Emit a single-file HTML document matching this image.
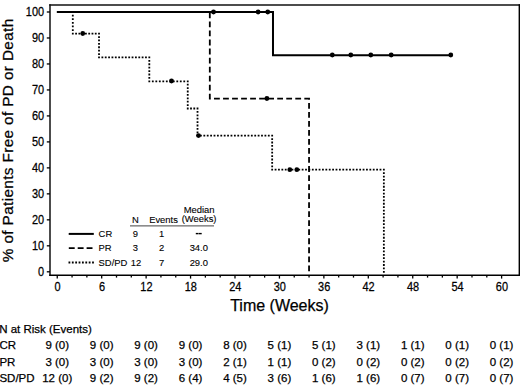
<!DOCTYPE html>
<html><head><meta charset="utf-8"><style>
html,body{margin:0;padding:0;background:#fff;width:520px;height:385px;overflow:hidden}
svg{display:block}
text{font-family:"Liberation Sans",sans-serif;fill:#000;stroke:#000;stroke-width:0.25px}
.tk{font-size:12.3px}
.ax{font-size:16px}
.ay{font-size:15.3px;letter-spacing:0.38px}
.lg{font-size:9.7px;stroke-width:0.12px}
.tb{font-size:11.5px}
</style></head><body>
<svg width="520" height="385" viewBox="0 0 520 385">
<path d="M50,4.25V275.9" stroke="#111" stroke-width="1.5" fill="none"/>
<path d="M49.25,5H520" stroke="#111" stroke-width="1.5" fill="none"/>
<path d="M519.3,4.25V275.9" stroke="#000" stroke-width="1.4" fill="none"/>
<path d="M49.25,275.2H520" stroke="#000" stroke-width="1.5" fill="none"/>
<line x1="46.8" y1="271.8" x2="50" y2="271.8" stroke="#000" stroke-width="1.3"/>
<text transform="translate(44.1,275.5) scale(0.89,1)" text-anchor="end" class="tk">0</text>
<line x1="46.8" y1="245.82" x2="50" y2="245.82" stroke="#000" stroke-width="1.3"/>
<text transform="translate(44.1,249.52) scale(0.89,1)" text-anchor="end" class="tk">10</text>
<line x1="46.8" y1="219.84" x2="50" y2="219.84" stroke="#000" stroke-width="1.3"/>
<text transform="translate(44.1,223.54) scale(0.89,1)" text-anchor="end" class="tk">20</text>
<line x1="46.8" y1="193.86" x2="50" y2="193.86" stroke="#000" stroke-width="1.3"/>
<text transform="translate(44.1,197.56) scale(0.89,1)" text-anchor="end" class="tk">30</text>
<line x1="46.8" y1="167.88" x2="50" y2="167.88" stroke="#000" stroke-width="1.3"/>
<text transform="translate(44.1,171.58) scale(0.89,1)" text-anchor="end" class="tk">40</text>
<line x1="46.8" y1="141.9" x2="50" y2="141.9" stroke="#000" stroke-width="1.3"/>
<text transform="translate(44.1,145.6) scale(0.89,1)" text-anchor="end" class="tk">50</text>
<line x1="46.8" y1="115.92" x2="50" y2="115.92" stroke="#000" stroke-width="1.3"/>
<text transform="translate(44.1,119.62) scale(0.89,1)" text-anchor="end" class="tk">60</text>
<line x1="46.8" y1="89.94" x2="50" y2="89.94" stroke="#000" stroke-width="1.3"/>
<text transform="translate(44.1,93.64) scale(0.89,1)" text-anchor="end" class="tk">70</text>
<line x1="46.8" y1="63.96" x2="50" y2="63.96" stroke="#000" stroke-width="1.3"/>
<text transform="translate(44.1,67.66) scale(0.89,1)" text-anchor="end" class="tk">80</text>
<line x1="46.8" y1="37.98" x2="50" y2="37.98" stroke="#000" stroke-width="1.3"/>
<text transform="translate(44.1,41.68) scale(0.89,1)" text-anchor="end" class="tk">90</text>
<line x1="46.8" y1="12" x2="50" y2="12" stroke="#000" stroke-width="1.3"/>
<text transform="translate(44.1,15.7) scale(0.89,1)" text-anchor="end" class="tk">100</text>
<line x1="57.25" y1="275" x2="57.25" y2="278.6" stroke="#000" stroke-width="1.3"/>
<text transform="translate(57.55,290.8) scale(0.89,1)" text-anchor="middle" class="tk">0</text>
<line x1="72.06" y1="275" x2="72.06" y2="277.6" stroke="#000" stroke-width="1.3"/>
<line x1="86.87" y1="275" x2="86.87" y2="277.6" stroke="#000" stroke-width="1.3"/>
<line x1="101.69" y1="275" x2="101.69" y2="278.6" stroke="#000" stroke-width="1.3"/>
<text transform="translate(101.99,290.8) scale(0.89,1)" text-anchor="middle" class="tk">6</text>
<line x1="116.5" y1="275" x2="116.5" y2="277.6" stroke="#000" stroke-width="1.3"/>
<line x1="131.31" y1="275" x2="131.31" y2="277.6" stroke="#000" stroke-width="1.3"/>
<line x1="146.12" y1="275" x2="146.12" y2="278.6" stroke="#000" stroke-width="1.3"/>
<text transform="translate(146.42,290.8) scale(0.89,1)" text-anchor="middle" class="tk">12</text>
<line x1="160.93" y1="275" x2="160.93" y2="277.6" stroke="#000" stroke-width="1.3"/>
<line x1="175.75" y1="275" x2="175.75" y2="277.6" stroke="#000" stroke-width="1.3"/>
<line x1="190.56" y1="275" x2="190.56" y2="278.6" stroke="#000" stroke-width="1.3"/>
<text transform="translate(190.86,290.8) scale(0.89,1)" text-anchor="middle" class="tk">18</text>
<line x1="205.37" y1="275" x2="205.37" y2="277.6" stroke="#000" stroke-width="1.3"/>
<line x1="220.18" y1="275" x2="220.18" y2="277.6" stroke="#000" stroke-width="1.3"/>
<line x1="234.99" y1="275" x2="234.99" y2="278.6" stroke="#000" stroke-width="1.3"/>
<text transform="translate(235.29,290.8) scale(0.89,1)" text-anchor="middle" class="tk">24</text>
<line x1="249.81" y1="275" x2="249.81" y2="277.6" stroke="#000" stroke-width="1.3"/>
<line x1="264.62" y1="275" x2="264.62" y2="277.6" stroke="#000" stroke-width="1.3"/>
<line x1="279.43" y1="275" x2="279.43" y2="278.6" stroke="#000" stroke-width="1.3"/>
<text transform="translate(279.73,290.8) scale(0.89,1)" text-anchor="middle" class="tk">30</text>
<line x1="294.24" y1="275" x2="294.24" y2="277.6" stroke="#000" stroke-width="1.3"/>
<line x1="309.05" y1="275" x2="309.05" y2="277.6" stroke="#000" stroke-width="1.3"/>
<line x1="323.87" y1="275" x2="323.87" y2="278.6" stroke="#000" stroke-width="1.3"/>
<text transform="translate(324.17,290.8) scale(0.89,1)" text-anchor="middle" class="tk">36</text>
<line x1="338.68" y1="275" x2="338.68" y2="277.6" stroke="#000" stroke-width="1.3"/>
<line x1="353.49" y1="275" x2="353.49" y2="277.6" stroke="#000" stroke-width="1.3"/>
<line x1="368.3" y1="275" x2="368.3" y2="278.6" stroke="#000" stroke-width="1.3"/>
<text transform="translate(368.6,290.8) scale(0.89,1)" text-anchor="middle" class="tk">42</text>
<line x1="383.11" y1="275" x2="383.11" y2="277.6" stroke="#000" stroke-width="1.3"/>
<line x1="397.93" y1="275" x2="397.93" y2="277.6" stroke="#000" stroke-width="1.3"/>
<line x1="412.74" y1="275" x2="412.74" y2="278.6" stroke="#000" stroke-width="1.3"/>
<text transform="translate(413.04,290.8) scale(0.89,1)" text-anchor="middle" class="tk">48</text>
<line x1="427.55" y1="275" x2="427.55" y2="277.6" stroke="#000" stroke-width="1.3"/>
<line x1="442.36" y1="275" x2="442.36" y2="277.6" stroke="#000" stroke-width="1.3"/>
<line x1="457.17" y1="275" x2="457.17" y2="278.6" stroke="#000" stroke-width="1.3"/>
<text transform="translate(457.47,290.8) scale(0.89,1)" text-anchor="middle" class="tk">54</text>
<line x1="471.99" y1="275" x2="471.99" y2="277.6" stroke="#000" stroke-width="1.3"/>
<line x1="486.8" y1="275" x2="486.8" y2="277.6" stroke="#000" stroke-width="1.3"/>
<line x1="501.61" y1="275" x2="501.61" y2="278.6" stroke="#000" stroke-width="1.3"/>
<text transform="translate(501.91,290.8) scale(0.89,1)" text-anchor="middle" class="tk">60</text>
<text x="279.5" y="310.6" text-anchor="middle" class="ax">Time (Weeks)</text>
<text transform="translate(12.7,140.3) rotate(-90)" text-anchor="middle" class="ay">% of Patients Free of PD or Death</text>
<path fill="#000" d="M71.9,11.1h1.8v1.8h-1.8zM71.9,14.71h1.8v1.8h-1.8zM71.9,18.31h1.8v1.8h-1.8zM71.9,21.92h1.8v1.8h-1.8zM71.9,25.53h1.8v1.8h-1.8zM71.9,29.13h1.8v1.8h-1.8zM71.9,32.74h1.8v1.8h-1.8zM75.18,32.74h1.8v1.8h-1.8zM78.46,32.74h1.8v1.8h-1.8zM81.73,32.74h1.8v1.8h-1.8zM85.01,32.74h1.8v1.8h-1.8zM88.29,32.74h1.8v1.8h-1.8zM91.57,32.74h1.8v1.8h-1.8zM94.84,32.74h1.8v1.8h-1.8zM98.12,32.74h1.8v1.8h-1.8zM98.12,36.14h1.8v1.8h-1.8zM98.12,39.55h1.8v1.8h-1.8zM98.12,42.95h1.8v1.8h-1.8zM98.12,46.35h1.8v1.8h-1.8zM98.12,49.76h1.8v1.8h-1.8zM98.12,53.16h1.8v1.8h-1.8zM98.12,56.57h1.8v1.8h-1.8zM101.47,56.57h1.8v1.8h-1.8zM104.82,56.57h1.8v1.8h-1.8zM108.18,56.57h1.8v1.8h-1.8zM111.53,56.57h1.8v1.8h-1.8zM114.88,56.57h1.8v1.8h-1.8zM118.23,56.57h1.8v1.8h-1.8zM121.59,56.57h1.8v1.8h-1.8zM124.94,56.57h1.8v1.8h-1.8zM128.29,56.57h1.8v1.8h-1.8zM131.64,56.57h1.8v1.8h-1.8zM135,56.57h1.8v1.8h-1.8zM138.35,56.57h1.8v1.8h-1.8zM141.7,56.57h1.8v1.8h-1.8zM145.05,56.57h1.8v1.8h-1.8zM148.41,56.57h1.8v1.8h-1.8zM148.41,59.97h1.8v1.8h-1.8zM148.41,63.37h1.8v1.8h-1.8zM148.41,66.78h1.8v1.8h-1.8zM148.41,70.18h1.8v1.8h-1.8zM148.41,73.58h1.8v1.8h-1.8zM148.41,76.99h1.8v1.8h-1.8zM148.41,80.39h1.8v1.8h-1.8zM151.9,80.39h1.8v1.8h-1.8zM155.4,80.39h1.8v1.8h-1.8zM158.89,80.39h1.8v1.8h-1.8zM162.38,80.39h1.8v1.8h-1.8zM165.88,80.39h1.8v1.8h-1.8zM169.37,80.39h1.8v1.8h-1.8zM172.87,80.39h1.8v1.8h-1.8zM176.36,80.39h1.8v1.8h-1.8zM179.86,80.39h1.8v1.8h-1.8zM183.35,80.39h1.8v1.8h-1.8zM186.84,80.39h1.8v1.8h-1.8zM186.84,83.79h1.8v1.8h-1.8zM186.84,87.19h1.8v1.8h-1.8zM186.84,90.59h1.8v1.8h-1.8zM186.84,93.99h1.8v1.8h-1.8zM186.84,97.39h1.8v1.8h-1.8zM186.84,100.79h1.8v1.8h-1.8zM186.84,104.19h1.8v1.8h-1.8zM186.84,107.59h1.8v1.8h-1.8zM190.1,107.59h1.8v1.8h-1.8zM193.36,107.59h1.8v1.8h-1.8zM196.62,107.59h1.8v1.8h-1.8zM196.62,110.99h1.8v1.8h-1.8zM196.62,114.4h1.8v1.8h-1.8zM196.62,117.8h1.8v1.8h-1.8zM196.62,121.2h1.8v1.8h-1.8zM196.62,124.61h1.8v1.8h-1.8zM196.62,128.01h1.8v1.8h-1.8zM196.62,131.41h1.8v1.8h-1.8zM196.62,134.82h1.8v1.8h-1.8zM200.01,134.82h1.8v1.8h-1.8zM203.41,134.82h1.8v1.8h-1.8zM206.8,134.82h1.8v1.8h-1.8zM210.19,134.82h1.8v1.8h-1.8zM213.59,134.82h1.8v1.8h-1.8zM216.98,134.82h1.8v1.8h-1.8zM220.37,134.82h1.8v1.8h-1.8zM223.77,134.82h1.8v1.8h-1.8zM227.16,134.82h1.8v1.8h-1.8zM230.55,134.82h1.8v1.8h-1.8zM233.95,134.82h1.8v1.8h-1.8zM237.34,134.82h1.8v1.8h-1.8zM240.73,134.82h1.8v1.8h-1.8zM244.13,134.82h1.8v1.8h-1.8zM247.52,134.82h1.8v1.8h-1.8zM250.91,134.82h1.8v1.8h-1.8zM254.31,134.82h1.8v1.8h-1.8zM257.7,134.82h1.8v1.8h-1.8zM261.09,134.82h1.8v1.8h-1.8zM264.49,134.82h1.8v1.8h-1.8zM267.88,134.82h1.8v1.8h-1.8zM271.27,134.82h1.8v1.8h-1.8zM271.27,138.22h1.8v1.8h-1.8zM271.27,141.62h1.8v1.8h-1.8zM271.27,145.02h1.8v1.8h-1.8zM271.27,148.42h1.8v1.8h-1.8zM271.27,151.82h1.8v1.8h-1.8zM271.27,155.22h1.8v1.8h-1.8zM271.27,158.62h1.8v1.8h-1.8zM271.27,162.02h1.8v1.8h-1.8zM271.27,165.42h1.8v1.8h-1.8zM271.27,168.82h1.8v1.8h-1.8zM274.66,168.82h1.8v1.8h-1.8zM278.04,168.82h1.8v1.8h-1.8zM281.43,168.82h1.8v1.8h-1.8zM284.81,168.82h1.8v1.8h-1.8zM288.19,168.82h1.8v1.8h-1.8zM291.58,168.82h1.8v1.8h-1.8zM294.96,168.82h1.8v1.8h-1.8zM298.35,168.82h1.8v1.8h-1.8zM301.73,168.82h1.8v1.8h-1.8zM305.12,168.82h1.8v1.8h-1.8zM308.5,168.82h1.8v1.8h-1.8zM311.88,168.82h1.8v1.8h-1.8zM315.27,168.82h1.8v1.8h-1.8zM318.65,168.82h1.8v1.8h-1.8zM322.04,168.82h1.8v1.8h-1.8zM325.42,168.82h1.8v1.8h-1.8zM328.81,168.82h1.8v1.8h-1.8zM332.19,168.82h1.8v1.8h-1.8zM335.57,168.82h1.8v1.8h-1.8zM338.96,168.82h1.8v1.8h-1.8zM342.34,168.82h1.8v1.8h-1.8zM345.73,168.82h1.8v1.8h-1.8zM349.11,168.82h1.8v1.8h-1.8zM352.5,168.82h1.8v1.8h-1.8zM355.88,168.82h1.8v1.8h-1.8zM359.26,168.82h1.8v1.8h-1.8zM362.65,168.82h1.8v1.8h-1.8zM366.03,168.82h1.8v1.8h-1.8zM369.42,168.82h1.8v1.8h-1.8zM372.8,168.82h1.8v1.8h-1.8zM376.19,168.82h1.8v1.8h-1.8zM379.57,168.82h1.8v1.8h-1.8zM382.95,168.82h1.8v1.8h-1.8zM382.95,172.23h1.8v1.8h-1.8zM382.95,175.63h1.8v1.8h-1.8zM382.95,179.03h1.8v1.8h-1.8zM382.95,182.43h1.8v1.8h-1.8zM382.95,185.84h1.8v1.8h-1.8zM382.95,189.24h1.8v1.8h-1.8zM382.95,192.64h1.8v1.8h-1.8zM382.95,196.04h1.8v1.8h-1.8zM382.95,199.45h1.8v1.8h-1.8zM382.95,202.85h1.8v1.8h-1.8zM382.95,206.25h1.8v1.8h-1.8zM382.95,209.65h1.8v1.8h-1.8zM382.95,213.06h1.8v1.8h-1.8zM382.95,216.46h1.8v1.8h-1.8zM382.95,219.86h1.8v1.8h-1.8zM382.95,223.26h1.8v1.8h-1.8zM382.95,226.67h1.8v1.8h-1.8zM382.95,230.07h1.8v1.8h-1.8zM382.95,233.47h1.8v1.8h-1.8zM382.95,236.87h1.8v1.8h-1.8zM382.95,240.28h1.8v1.8h-1.8zM382.95,243.68h1.8v1.8h-1.8zM382.95,247.08h1.8v1.8h-1.8zM382.95,250.48h1.8v1.8h-1.8zM382.95,253.89h1.8v1.8h-1.8zM382.95,257.29h1.8v1.8h-1.8zM382.95,260.69h1.8v1.8h-1.8zM382.95,264.09h1.8v1.8h-1.8zM382.95,267.5h1.8v1.8h-1.8zM382.95,270.9h1.8v1.8h-1.8z"/>
<path d="M57.25,12 L209.81,12 L209.81,98.59 L309.05,98.59 L309.05,271.8" fill="none" stroke="#000" stroke-width="1.8" stroke-dasharray="5.8 3.23" stroke-dashoffset="0.45"/>
<path d="M56.81,12 L272.99,12 L272.99,55.31 L450.8,55.31" fill="none" stroke="#000" stroke-width="2"/>
<circle cx="213.5" cy="12" r="2.4" fill="#000"/>
<circle cx="258.1" cy="12" r="2.4" fill="#000"/>
<circle cx="267.75" cy="12" r="2.4" fill="#000"/>
<circle cx="332.3" cy="55" r="2.4" fill="#000"/>
<circle cx="350.8" cy="55" r="2.4" fill="#000"/>
<circle cx="370.8" cy="55" r="2.4" fill="#000"/>
<circle cx="391.2" cy="55" r="2.4" fill="#000"/>
<circle cx="450.8" cy="55" r="2.4" fill="#000"/>
<circle cx="266.9" cy="98.5" r="2.4" fill="#000"/>
<circle cx="82.75" cy="33.5" r="2.4" fill="#000"/>
<circle cx="171.5" cy="81" r="2.4" fill="#000"/>
<circle cx="198.5" cy="135.6" r="2.4" fill="#000"/>
<circle cx="289.8" cy="169.7" r="2.4" fill="#000"/>
<circle cx="296.8" cy="169.7" r="2.4" fill="#000"/>
<line x1="68.7" y1="233.9" x2="93.8" y2="233.9" stroke="#000" stroke-width="2"/>
<line x1="68.8" y1="248.2" x2="92.9" y2="248.2" stroke="#000" stroke-width="1.8" stroke-dasharray="5.9 3"/>
<path fill="#000" d="M68.5,261.6h1.8v1.8h-1.8zM71.87,261.6h1.8v1.8h-1.8zM75.24,261.6h1.8v1.8h-1.8zM78.61,261.6h1.8v1.8h-1.8zM81.98,261.6h1.8v1.8h-1.8zM85.35,261.6h1.8v1.8h-1.8zM88.72,261.6h1.8v1.8h-1.8zM92.09,261.6h1.8v1.8h-1.8z"/>
<line x1="130" y1="225.9" x2="214" y2="225.9" stroke="#444" stroke-width="1"/>
<text transform="translate(98.6,237.1) scale(0.97,1)" class="lg">CR</text>
<text transform="translate(135.3,237.1) scale(0.97,1)" class="lg" text-anchor="middle">9</text>
<text transform="translate(161.6,237.1) scale(0.97,1)" class="lg" text-anchor="middle">1</text>
<rect x="195.8" y="232.9" width="2.8" height="1.4" fill="#000"/><rect x="198.9" y="232.9" width="2.8" height="1.4" fill="#000"/>
<text transform="translate(98.6,251) scale(0.97,1)" class="lg">PR</text>
<text transform="translate(135.3,251) scale(0.97,1)" class="lg" text-anchor="middle">3</text>
<text transform="translate(161.6,251) scale(0.97,1)" class="lg" text-anchor="middle">2</text>
<text transform="translate(198.8,251) scale(0.97,1)" class="lg" text-anchor="middle">34.0</text>
<text transform="translate(98.6,265.6) scale(0.97,1)" class="lg">SD/PD</text>
<text transform="translate(136.1,265.6) scale(0.97,1)" class="lg" text-anchor="middle">12</text>
<text transform="translate(161.6,265.6) scale(0.97,1)" class="lg" text-anchor="middle">7</text>
<text transform="translate(198.8,265.6) scale(0.97,1)" class="lg" text-anchor="middle">29.0</text>
<text transform="translate(135.4,222.5) scale(0.97,1)" class="lg" text-anchor="middle">N</text>
<text transform="translate(163.5,222.5) scale(0.97,1)" class="lg" text-anchor="middle">Events</text>
<text transform="translate(199.1,212.9) scale(0.97,1)" class="lg" text-anchor="middle">Median</text>
<text transform="translate(199.1,222.3) scale(0.97,1)" class="lg" text-anchor="middle">(Weeks)</text>
<text x="-0.8" y="332.6" class="tb">N at Risk (Events)</text>
<text x="-0.6" y="349.3" class="tb">CR</text>
<text x="57.25" y="349.3" class="tb" text-anchor="middle">9 (0)</text>
<text x="101.69" y="349.3" class="tb" text-anchor="middle">9 (0)</text>
<text x="146.12" y="349.3" class="tb" text-anchor="middle">9 (0)</text>
<text x="190.56" y="349.3" class="tb" text-anchor="middle">9 (0)</text>
<text x="234.99" y="349.3" class="tb" text-anchor="middle">8 (0)</text>
<text x="279.43" y="349.3" class="tb" text-anchor="middle">5 (1)</text>
<text x="323.87" y="349.3" class="tb" text-anchor="middle">5 (1)</text>
<text x="368.3" y="349.3" class="tb" text-anchor="middle">3 (1)</text>
<text x="412.74" y="349.3" class="tb" text-anchor="middle">1 (1)</text>
<text x="457.17" y="349.3" class="tb" text-anchor="middle">0 (1)</text>
<text x="501.61" y="349.3" class="tb" text-anchor="middle">0 (1)</text>
<text x="-0.6" y="365.8" class="tb">PR</text>
<text x="57.25" y="365.8" class="tb" text-anchor="middle">3 (0)</text>
<text x="101.69" y="365.8" class="tb" text-anchor="middle">3 (0)</text>
<text x="146.12" y="365.8" class="tb" text-anchor="middle">3 (0)</text>
<text x="190.56" y="365.8" class="tb" text-anchor="middle">3 (0)</text>
<text x="234.99" y="365.8" class="tb" text-anchor="middle">2 (1)</text>
<text x="279.43" y="365.8" class="tb" text-anchor="middle">1 (1)</text>
<text x="323.87" y="365.8" class="tb" text-anchor="middle">0 (2)</text>
<text x="368.3" y="365.8" class="tb" text-anchor="middle">0 (2)</text>
<text x="412.74" y="365.8" class="tb" text-anchor="middle">0 (2)</text>
<text x="457.17" y="365.8" class="tb" text-anchor="middle">0 (2)</text>
<text x="501.61" y="365.8" class="tb" text-anchor="middle">0 (2)</text>
<text x="-0.6" y="381.9" class="tb">SD/PD</text>
<text x="57.25" y="381.9" class="tb" text-anchor="middle">12 (0)</text>
<text x="101.69" y="381.9" class="tb" text-anchor="middle">9 (2)</text>
<text x="146.12" y="381.9" class="tb" text-anchor="middle">9 (2)</text>
<text x="190.56" y="381.9" class="tb" text-anchor="middle">6 (4)</text>
<text x="234.99" y="381.9" class="tb" text-anchor="middle">4 (5)</text>
<text x="279.43" y="381.9" class="tb" text-anchor="middle">3 (6)</text>
<text x="323.87" y="381.9" class="tb" text-anchor="middle">1 (6)</text>
<text x="368.3" y="381.9" class="tb" text-anchor="middle">1 (6)</text>
<text x="412.74" y="381.9" class="tb" text-anchor="middle">0 (7)</text>
<text x="457.17" y="381.9" class="tb" text-anchor="middle">0 (7)</text>
<text x="501.61" y="381.9" class="tb" text-anchor="middle">0 (7)</text>
</svg>
</body></html>
